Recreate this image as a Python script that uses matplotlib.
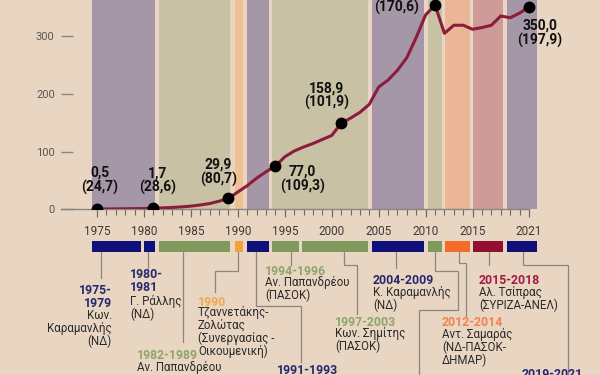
import matplotlib
matplotlib.use('Agg')
import matplotlib.pyplot as plt
import matplotlib.transforms as mtransforms
from matplotlib.patches import Rectangle

plt.rcParams['font.family'] = ['Roboto', 'DejaVu Sans']

# ---------------- data ----------------
years = list(range(1975, 2022))
debt = [0.5, 0.6, 0.7, 0.9, 1.1, 1.4, 1.8,                  # 1975-1981
        2.5, 3.2, 4.2, 5.5, 7.5, 10, 14, 19,                # 1982-1989
        30, 41, 54, 65, 75, 91, 101, 108, 114, 121, 128,    # 1990-2000
        149, 158, 168, 182, 212, 224, 241, 263, 298, 337, 354,  # 2001-2011
        305, 319, 319, 312, 315, 319, 335, 332, 340, 351]   # 2012-2021

key_years = [1975, 1981, 1989, 1994, 2001, 2011, 2021]
key_labels = ["0,5\n(24,7)", "1,7\n(28,6)", "29,9\n(80,7)", "77,0\n(109,3)",
              "158,9\n(101,9)", "355,9\n(170,6)", "350,0\n(197,9)"]

x_tick_years = [1975, 1980, 1985, 1990, 1995, 2000, 2005, 2010, 2015, 2021]
y_ticks = [0, 100, 200, 300]

gov_ranges = ["1975-\n1979", "1980-\n1981", "1982-1989", "1990", "1991-1993",
              "1994-1996", "1997-2003", "2004-2009", "2010-2011", "2012-2014",
              "2015-2018", "2019-2021"]
gov_names = ["Κων.\nΚαραμανλής\n(ΝΔ)", "Γ. Ράλλης\n(ΝΔ)", "Αν. Παπανδρέου\n(ΠΑΣΟΚ)",
             "Τζαννετάκης-\nΖολώτας\n(Συνεργασίας -\nΟικουμενική)",
             "Κων. Μητσοτάκης\n(ΝΔ)", "Αν. Παπανδρέου\n(ΠΑΣΟΚ)", "Κων. Σημίτης\n(ΠΑΣΟΚ)",
             "Κ. Καραμανλής\n(ΝΔ)", "Γ. Παπανδρέου\n(ΠΑΣΟΚ)",
             "Αντ. Σαμαράς\n(ΝΔ-ΠΑΣΟΚ-\nΔΗΜΑΡ)", "Αλ. Τσίπρας\n(ΣΥΡΙΖΑ-ΑΝΕΛ)",
             "Κυρ. Μητσοτάκης\n(ΝΔ)"]
gov_start = [1974.45, 1980.0, 1981.6, 1989.7, 1991.0, 1993.65, 1996.85,
             2004.3, 2010.25, 2012.05, 2015.05, 2018.65]
gov_end = [1979.65, 1981.2, 1989.15, 1990.6, 1993.3, 1996.5, 2003.85,
           2009.8, 2011.75, 2014.7, 2018.25, 2021.85]
gov_party = ['ND', 'ND', 'PASOK', 'ECU', 'ND', 'PASOK', 'PASOK', 'ND',
             'PASOK', 'COAL', 'SYRIZA', 'ND']

# ---------------- styles ----------------
BG = '#e9d6c2'
band_col = {'ND': '#a597a7', 'PASOK': '#c9c1a4', 'ECU': '#eec194',
            'COAL': '#ebb598', 'SYRIZA': '#cf9b98'}
bar_col = {'ND': '#10107a', 'PASOK': '#7e9a5d', 'ECU': '#f2a23a',
           'COAL': '#f36c2c', 'SYRIZA': '#930f2f'}
txt_col = {'ND': '#26266f', 'PASOK': '#8fa46a', 'ECU': '#f4a752',
           'COAL': '#f2824c', 'SYRIZA': '#a3183f'}
LINE_COL = '#8c1c3c'
LEAD_COL = '#8a8580'

# ---------------- layout (pixels) ----------------
W, H = 600, 375
PPY = 9.39       # px per year
X1975 = 97
AX_L, AX_R = 61, 560
Y0 = 209.3
PPU = 0.577      # px per unit
YR_STEP, NM_STEP = 12.5, 11.8

key_offsets = [(3, 28.5), (4, 27.5), (-10, 26), (27, -13.5), (-15, 27.5),
               (-38, 5.0), (11, -26.5)]

# (x, ha, first year-line y, first name-line y)
lab_layout = [(112, 'right', 290.5, 317), (130, 'left', 275, 302),
              (137, 'left', 355.5, 367.5), (198, 'left', 302, 314),
              (277, 'left', 371, 383), (265, 'left', 271.5, 283.5),
              (335, 'left', 322, 334.5), (373, 'left', 281, 293),
              None, (442, 'left', 323, 336), (479, 'left', 281, 293),
              (522, 'left', 374, 386)]
leaders = [[(101, 252), (101, 278)],
           [(148, 252), (148, 268)],
           [(183, 252), (183, 342)],
           [(238, 252), (238, 271), (215, 271), (215, 292)],
           [(256, 252), (256, 306), (301, 306), (301, 362)],
           [(291, 252), (291, 265)],
           [(344, 252), (344, 265), (357, 265), (357, 314)],
           [(396, 252), (396, 268)],
           [(435, 252), (435, 271), (458, 271), (458, 310), (419, 310), (419, 380)],
           [(459, 252), (459, 263), (466, 263), (466, 316)],
           [(489, 252), (489, 265)],
           [(523, 252), (523, 265), (568, 265), (568, 380)]]

fig = plt.figure(figsize=(W / 100, H / 100), dpi=100, facecolor=BG)

ax = fig.add_axes([AX_L / W, 1 - Y0 / H, (AX_R - AX_L) / W, Y0 / H])
ax.set_xlim(1975 - (X1975 - AX_L) / PPY, 1975 + (AX_R - X1975) / PPY)
ax.set_ylim(0, Y0 / PPU)
ax.set_facecolor('none')
ax.set_zorder(2)

ax2 = fig.add_axes([0, 0, 1, 1])
ax2.set_xlim(0, W)
ax2.set_ylim(H, 0)
ax2.axis('off')
ax2.set_zorder(1)

# bands (consecutive terms of the same party merge into one band)
for i, (s, e, p) in enumerate(zip(gov_start, gov_end, gov_party)):
    if i + 1 < len(gov_party) and gov_party[i + 1] == p:
        e = gov_start[i + 1]
    ax.axvspan(s, e, color=band_col[p], lw=0, zorder=0)

# curve + dots
ax.plot(years, debt, color=LINE_COL, lw=2.2, zorder=3, solid_capstyle='round')
key_vals = [debt[years.index(y)] for y in key_years]
ax.plot(key_years, key_vals, 'o', color='black', ms=7.5, zorder=4)
for x, y, lbl, off in zip(key_years, key_vals, key_labels, key_offsets):
    ax.annotate(lbl, (x, y), xytext=off, textcoords='offset pixels',
                ha='center', va='center', fontsize=10, fontweight='bold',
                color='#111111', linespacing=1.0, zorder=5)

# axes styling
for sp in ['top', 'right', 'left']:
    ax.spines[sp].set_visible(False)
ax.spines['bottom'].set_color('#8a8580')
ax.spines['bottom'].set_linewidth(1)
ax.spines['bottom'].set_bounds(ax.get_xlim()[0], 2021)
ax.set_xticks(x_tick_years)
ax.set_xticklabels([str(y) for y in x_tick_years])
ax.set_xticks(years, minor=True)
ax.tick_params(axis='x', which='major', direction='out', length=5.5, width=0.9,
               color='#6f6a66', labelsize=8.5, labelcolor='#3a3a3a', pad=5.5)
ax.tick_params(axis='x', which='minor', direction='out', length=4, width=0.8,
               color='#6f6a66')
ax.set_yticks(y_ticks)
ax.tick_params(axis='y', direction='in', length=8.6, width=1, color='#8a8580',
               labelsize=8, labelcolor='#555555', pad=4.5)

# timeline bars
trans = mtransforms.blended_transform_factory(ax.transData, ax2.transData)
for s, e, p in zip(gov_start, gov_end, gov_party):
    ax2.add_patch(Rectangle((s, 241), e - s, 11, transform=trans,
                            color=bar_col[p], lw=0))

# leader lines
for path in leaders:
    xs, ys = zip(*path)
    ax2.plot(xs, ys, color=LEAD_COL, lw=0.9, solid_joinstyle='miter')


def block(x, y_first, lines, step, ha, **kw):
    # keep only lines that reach into the picture, draw them as one text
    lines = [ln for i, ln in enumerate(lines) if y_first + i * step < H + 4]
    if not lines:
        return
    n = len(lines)
    ax2.text(x, y_first + (n - 1) * step / 2, '\n'.join(lines), ha=ha,
             va='center', multialignment=ha, linespacing=0.96, **kw)


for rng, name, p, lay in zip(gov_ranges, gov_names, gov_party, lab_layout):
    if lay is None:
        continue
    x, ha, y1, y2 = lay
    block(x, y1, rng.split('\n'), YR_STEP, ha, fontsize=8.8,
          fontweight='bold', color=txt_col[p])
    block(x, y2, name.split('\n'), NM_STEP, ha, fontsize=8.3, color='#2a2a2a')

fig.savefig('out.png', dpi=100, facecolor=BG)
